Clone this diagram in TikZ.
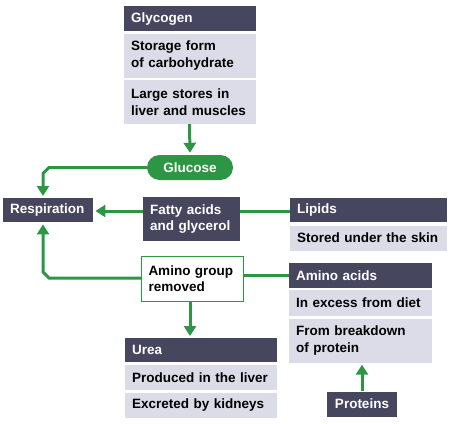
\documentclass[tikz,border=0pt]{standalone}
\usepackage{fontspec}
\setmainfont{Liberation Sans}
\usepackage{xcolor}
\usetikzlibrary{positioning,arrows.meta}

\definecolor{slate}{HTML}{46465F}
\definecolor{pale}{HTML}{DCDCE8}
\definecolor{leaf}{HTML}{2C9645}

\tikzset{
  boxtext/.style={rectangle, font=\bfseries\fontsize{13.5}{16.5}\selectfont, align=left,
    inner xsep=7pt, inner ysep=0pt, text width=#1},
  head/.style={boxtext=#1, fill=slate, text=white},
  info/.style={boxtext=#1, fill=pale, text=black},
  flow/.style={draw=leaf, line width=3pt, -{Triangle[width=12pt,length=10pt]}, shorten >=2pt},
  link/.style={draw=leaf, line width=3pt}
}

\begin{document}
\begin{tikzpicture}[x=1pt,y=-1pt,node distance=2pt]
  \useasboundingbox (0,0) rectangle (460,423);

  % glycogen column
  \node (glyc) [head=118pt, minimum height=25pt, anchor=north west] at (124,6) {Glycogen};
  \node (store) [info=118pt, minimum height=44pt, below=of glyc] {Storage form\\of carbohydrate};
  \node (large) [info=118pt, minimum height=44pt, below=of store] {Large stores in\\liver and muscles};
  \node (gluc) [rectangle, rounded corners=12.5pt, fill=leaf, text=white, minimum width=86pt, minimum height=25pt,
    font=\bfseries\fontsize{13.5}{16.5}\selectfont] at (190,167.5) {Glucose};

  % left side
  \node (resp) [head=76pt, minimum height=24pt, anchor=north west] at (3,198) {Respiration};
  \node (fatty) [head=83pt, minimum height=44pt, anchor=north west] at (143,197) {Fatty acids\\and glycerol};
  \node (amgrp) [boxtext=88pt, draw=leaf, line width=1pt, fill=white, minimum height=45pt, anchor=north west]
    at (141,255.5) {Amino group\\removed};

  % right side
  \node (lipids) [head=143pt, minimum height=24pt, anchor=north west] at (290,198) {Lipids};
  \node (skin) [info=143pt, minimum height=25pt, below=3pt of lipids] {Stored under the skin};
  \node (amacid) [head=129pt, minimum height=25pt, anchor=north west] at (289,262.5) {Amino acids};
  \node (excess) [info=129pt, minimum height=26pt, below=of amacid] {In excess from diet};
  \node (brk) [info=129pt, minimum height=44pt, below=of excess] {From breakdown\\of protein};

  % bottom
  \node (urea) [head=138pt, minimum height=24pt, anchor=north west] at (125,338) {Urea};
  \node (liver) [info=138pt, minimum height=25pt, below=2.5pt of urea] {Produced in the liver};
  \node (kidney) [info=138pt, minimum height=25pt, below=2.5pt of liver] {Excreted by kidneys};
  \node (prot) [rectangle, fill=slate, text=white, minimum width=70pt, minimum height=25pt,
    font=\bfseries\fontsize{13.5}{16.5}\selectfont] at (362,404) {Proteins};

  \coordinate (bendA) at (43,167.5);
  \coordinate (bendB) at (43,278);

  \draw[flow] ([xshift=-0.5pt]large.south -| gluc) -- (gluc.north);
  \draw[flow] (gluc.west) -- ([xshift=6pt]bendA) -- ([yshift=-6pt]bendA) -- (bendA |- resp.north);
  \draw[flow] (fatty.west |- 0,211) -- (resp.east |- 0,211);
  \draw[link] (lipids.west |- 0,211) -- (fatty.east |- 0,211);
  \draw[flow] (amgrp.west |- bendB) -- ([xshift=6pt]bendB) -- ([yshift=6pt]bendB) -- (bendB |- resp.south);
  \draw[link] (amacid.west) -- (amgrp.east |- amacid.west);
  \draw[flow] (190,0 |- amgrp.south) -- (190,0 |- urea.north);
  \draw[flow] (prot.north) -- (prot.north |- brk.south);
\end{tikzpicture}
\end{document}
